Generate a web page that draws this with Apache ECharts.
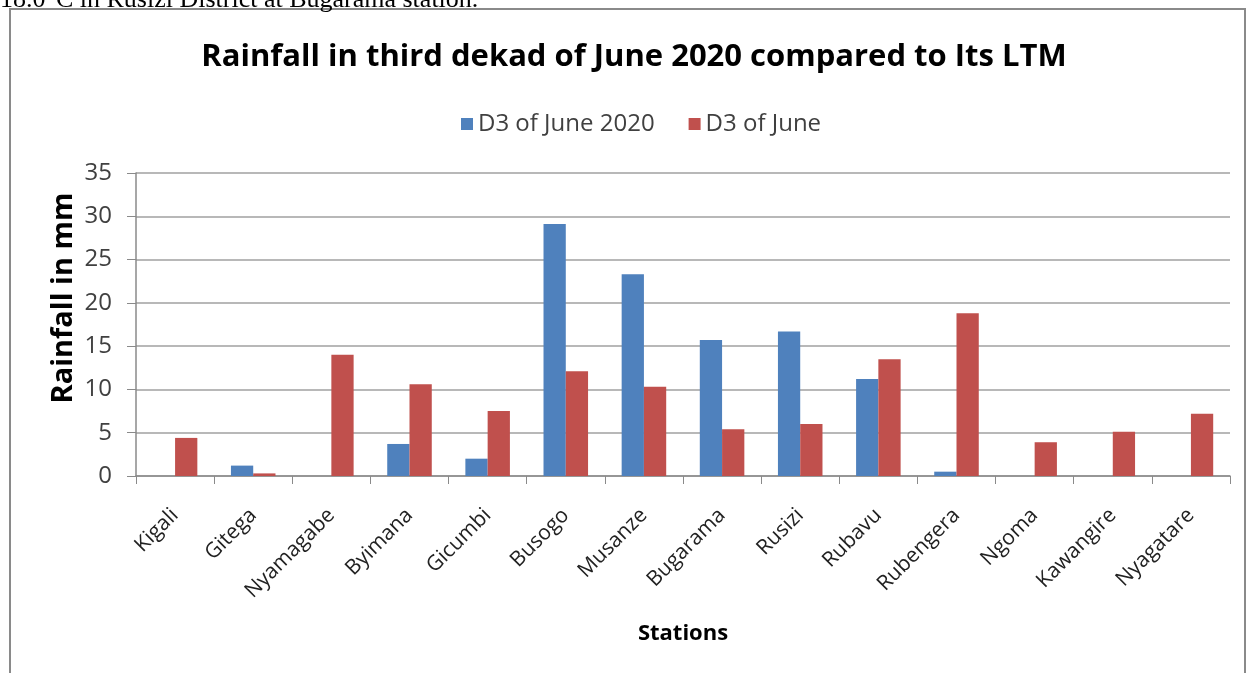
<!DOCTYPE html>
<html>
<head>
<meta charset="utf-8">
<script src="https://cdn.jsdelivr.net/npm/echarts@6/dist/echarts.min.js"></script>
<style>
html,body{margin:0;padding:0;background:#fff;}
#chart{width:1252px;height:673px;}
</style>
</head>
<body>
<div id="chart"></div>
<script>
const stations = ['Kigali','Gitega','Nyamagabe','Byimana','Gicumbi','Busogo','Musanze','Bugarama','Rusizi','Rubavu','Rubengera','Ngoma','Kawangire','Nyagatare'];
const june2020 = [0, 1.2, 0, 3.7, 2.0, 29.1, 23.3, 15.7, 16.7, 11.2, 0.5, 0, 0, 0];
const juneLTM = [4.4, 0.3, 14.0, 10.6, 7.5, 12.1, 10.3, 5.4, 6.0, 13.5, 18.8, 3.9, 5.1, 7.2];
const yTicks = {min: 0, max: 35, interval: 5};

const font = '"Open Sans", "Noto Sans", sans-serif';
const chart = echarts.init(document.getElementById('chart'));
chart.setOption({
  animation: false,
  backgroundColor: '#fff',
  graphic: [
    {type: 'rect', shape: {x: 10, y: 9, width: 1235, height: 700}, style: {fill: 'none', stroke: '#8a8a8a', lineWidth: 2}, z: -1},
    {type: 'text', x: 0, y: -13, style: {text: '18.0°C in Rusizi District at Bugarama station.', font: '26px "Liberation Serif", "Times New Roman", serif', fill: '#000', verticalAlign: 'top'}},
    {type: 'text', x: 634, y: 57, style: {text: 'Rainfall in third dekad of June 2020 compared to Its LTM', font: 'bold 31px ' + font, fill: '#000', align: 'center', verticalAlign: 'middle'}},
    {type: 'text', x: 64, y: 298, rotation: Math.PI/2, style: {text: 'Rainfall in mm', font: 'bold 29px ' + font, fill: '#000', align: 'center', verticalAlign: 'middle'}},
    {type: 'text', x: 683, y: 634, style: {text: 'Stations', font: 'bold 22px ' + font, fill: '#000', align: 'center', verticalAlign: 'middle'}}
  ],
  legend: {
    top: 107, left: 456, itemWidth: 12, itemHeight: 12, itemGap: 34, icon: 'rect',
    textStyle: {fontFamily: font, fontSize: 24, color: '#404040'},
    data: ['D3 of June 2020', 'D3 of June']
  },
  grid: {left: 136, right: 22, top: 173, bottom: 197, containLabel: false},
  xAxis: {
    type: 'category', data: stations,
    axisLine: {lineStyle: {color: '#8a8a8a', width: 1.5}},
    axisTick: {show: true, length: 8, lineStyle: {color: '#8a8a8a'}},
    axisLabel: {rotate: 45, interval: 0, margin: 36, fontFamily: font, fontSize: 21, color: '#222'}
  },
  yAxis: {
    type: 'value', min: yTicks.min, max: yTicks.max, interval: yTicks.interval,
    axisLine: {show: true, lineStyle: {color: '#8a8a8a', width: 1.5}},
    axisTick: {show: true, length: 9, lineStyle: {color: '#8a8a8a'}},
    axisLabel: {margin: 24, fontFamily: font, fontSize: 24, color: '#404040'},
    splitLine: {lineStyle: {color: '#a0a0a0', width: 1.5}}
  },
  series: [
    {name: 'D3 of June 2020', type: 'bar', data: june2020, barGap: '0%', barCategoryGap: '43%', itemStyle: {color: '#4F81BD'}},
    {name: 'D3 of June', type: 'bar', data: juneLTM, barGap: '0%', barCategoryGap: '43%', itemStyle: {color: '#C0504D'}}
  ]
});
</script>
</body>
</html>
